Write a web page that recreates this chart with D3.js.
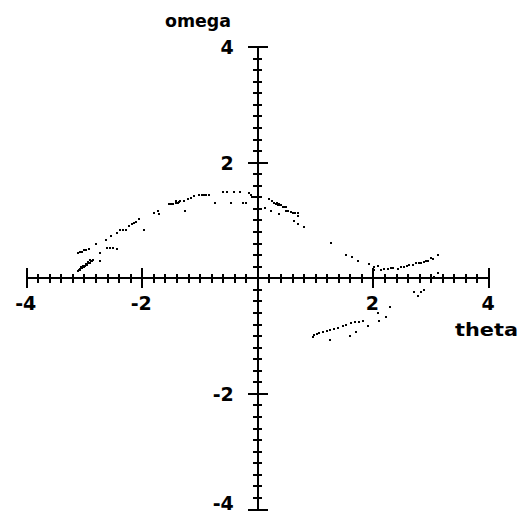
<!DOCTYPE html>
<html>
<head>
<meta charset="utf-8">
<script src="https://cdn.jsdelivr.net/npm/d3@7"></script>
<style>
  html, body { margin: 0; padding: 0; background: #fff; }
  svg { display: block; }
  text { font-family: "DejaVu Sans", sans-serif; font-weight: bold; fill: #000; }
</style>
</head>
<body>
<svg id="chart" width="521" height="516"></svg>
<script>
// Poincaré section of the driven pendulum: (theta, omega) samples
const theta = [
  -3.11,-3.09,-3.07,-3.05,-3.03,-3.01,-2.99,-2.97,-2.95,-2.93,-2.91,-2.89,-2.87,-2.85,
  -3.10,-3.06,-3.02,-2.98,-2.94,-2.90,-3.08,-3.04,-3.00,-2.96,-2.92,
  -3.11,-3.07,-3.04,-3.00,-2.97,-2.93,
  -2.80,-2.73,-2.73,-2.61,-2.56,-2.50,-2.43,
  -2.62,-2.54,-2.43,-2.38,-2.33,-2.28,-2.23,-2.18,-2.14,-2.11,-2.06,-1.97,
  -1.80,-1.73,-1.71,
  -1.53,-1.50,-1.46,-1.42,-1.38,-1.41,-1.36,-1.34,-1.28,-1.26,
  -1.21,-1.15,-1.10,-1.02,-0.97,-0.93,-0.89,-0.84,-0.74,
  -0.60,-0.53,-0.46,-0.41,-0.31,-0.25,-0.20,-0.15,-0.12,-0.10,
  0.13,0.23,0.37,
  0.20,0.25,0.28,0.32,0.35,0.38,0.40,0.43,0.46,0.49,0.33,0.37,
  0.49,0.53,0.57,0.61,0.64,0.70,0.70,
  0.63,0.70,0.80,1.27,
  1.53,1.63,1.74,1.93,
  2.01,2.01,2.08,2.13,2.19,2.26,2.30,2.34,2.43,2.48,2.53,2.58,2.62,2.69,2.74,2.79,2.83,2.88,2.91,2.95,3.00,3.03,3.12,
  3.12,3.05,2.96,
  2.70,2.77,2.83,2.88,
  2.29,2.08,2.22,2.10,
  0.96,0.97,1.03,1.06,1.13,1.20,1.25,1.32,1.39,1.48,1.53,1.61,1.68,1.75,1.82,
  1.25,1.60,1.70,1.91
];
const omega = [
  0.13,0.14,0.16,0.17,0.19,0.20,0.22,0.23,0.25,0.26,0.27,0.29,0.30,0.32,
  0.15,0.19,0.22,0.25,0.28,0.31,0.14,0.17,0.20,0.23,0.26,
  0.44,0.45,0.46,0.48,0.49,0.51,
  0.59,0.44,0.30,0.52,0.53,0.52,0.51,
  0.66,0.73,0.78,0.83,0.84,0.84,0.90,0.93,0.95,0.97,1.03,0.84,
  1.13,1.16,1.11,
  1.28,1.29,1.29,1.30,1.30,1.34,1.32,1.34,1.34,1.16,
  1.37,1.39,1.42,1.44,1.44,1.44,1.44,1.44,1.30,
  1.49,1.49,1.30,1.49,1.49,1.30,1.30,1.48,1.44,1.41,
  1.22,1.16,1.11,
  1.37,1.34,1.30,1.29,1.27,1.26,1.27,1.24,1.23,1.24,1.30,1.29,
  1.16,1.16,1.15,1.13,1.13,1.13,1.08,
  0.99,0.94,0.89,0.61,
  0.40,0.37,0.30,0.25,
  0.20,0.15,0.21,0.14,0.16,0.16,0.17,0.18,0.16,0.20,0.20,0.21,0.23,0.23,0.27,0.27,0.27,0.28,0.30,0.30,0.35,0.33,0.40,
  0.09,0.02,0.01,
  -0.24,-0.31,-0.24,-0.20,
  -0.50,-0.60,-0.67,-0.74,
  -1.02,-0.98,-0.96,-0.95,-0.93,-0.91,-0.89,-0.88,-0.86,-0.83,-0.81,-0.77,-0.76,-0.75,-0.74,
  -1.07,-1.00,-0.93,-0.83
];

const xMajor = [-4, -2, 0, 2, 4];
const yMajor = [-4, -2, 0, 2, 4];
const xTickLabels = ["-4", "-2", "", "2", "4"];
const yTickLabels = ["-4", "-2", "", "2", "4"];
const minorStep = 0.2;
const xTitle = "theta";
const yTitle = "omega";

const svg = d3.select("#chart");
const x = d3.scaleLinear().domain([-4, 4]).range([26.7, 489]);
const y = d3.scaleLinear().domain([-4, 4]).range([509.5, 47]);
const x0 = x(0), y0 = y(0);

// every 0.2 step that is not an even integer
const minorTicks = d3.range(-20, 21).filter(i => i % 10 !== 0).map(i => i * minorStep);

const g = svg.append("g").attr("stroke", "#000").attr("stroke-width", 2).attr("shape-rendering", "crispEdges");

// axis lines crossing at the origin
g.append("line").attr("x1", x(-4)).attr("x2", x(4)).attr("y1", y0).attr("y2", y0);
g.append("line").attr("x1", x0).attr("x2", x0).attr("y1", y(4)).attr("y2", y(-4));

// minor ticks
g.selectAll(".xminor").data(minorTicks).join("line")
  .attr("x1", d => x(d)).attr("x2", d => x(d)).attr("y1", y0 - 4.5).attr("y2", y0 + 4.5);
g.selectAll(".yminor").data(minorTicks).join("line")
  .attr("y1", d => y(d)).attr("y2", d => y(d)).attr("x1", x0 - 4.5).attr("x2", x0 + 4.5);

// major ticks at even values
g.selectAll(".xmajor").data(xMajor).join("line")
  .attr("x1", d => x(d)).attr("x2", d => x(d)).attr("y1", y0 - 10).attr("y2", y0 + 10);
g.selectAll(".ymajor").data(yMajor).join("line")
  .attr("y1", d => y(d)).attr("y2", d => y(d)).attr("x1", x0 - 10).attr("x2", x0 + 10);

// tick labels (bottom one kept inside the frame)
svg.selectAll(".xlab").data(xMajor).join("text")
  .attr("x", d => x(d) - 1).attr("y", y0 + 32)
  .attr("text-anchor", "middle").attr("font-size", 19)
  .text((d, i) => xTickLabels[i]);
svg.selectAll(".ylab").data(yMajor).join("text")
  .attr("x", x0 - 24).attr("y", d => Math.min(y(d) + 7, 510))
  .attr("text-anchor", "end").attr("font-size", 19)
  .text((d, i) => yTickLabels[i]);

// axis titles
svg.append("text").attr("x", 165).attr("y", 27)
  .attr("font-size", 17).attr("textLength", 66).attr("lengthAdjust", "spacingAndGlyphs")
  .text(yTitle);
svg.append("text").attr("x", 455).attr("y", 336)
  .attr("font-size", 18).attr("textLength", 63).attr("lengthAdjust", "spacingAndGlyphs")
  .text(xTitle);

// section points
const pts = theta.map((t, i) => ({ t, w: omega[i] }));
svg.append("g").attr("fill", "#000").attr("shape-rendering", "crispEdges")
  .selectAll("rect").data(pts).join("rect")
  .attr("x", d => Math.round(x(d.t)) - 1).attr("y", d => Math.round(y(d.w)) - 1)
  .attr("width", 2).attr("height", 2);
</script>
</body>
</html>
